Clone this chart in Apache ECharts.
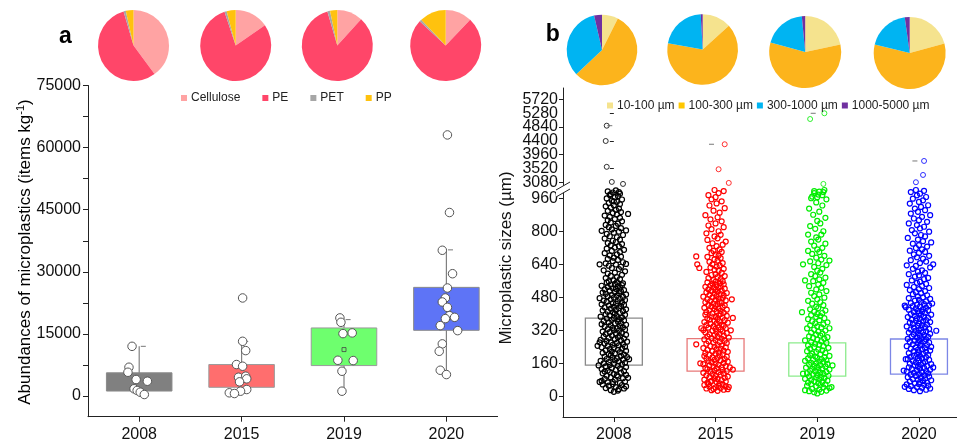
<!DOCTYPE html>
<html><head><meta charset="utf-8">
<script src="https://cdn.jsdelivr.net/npm/echarts@6/dist/echarts.min.js"></script>
<style>html,body{margin:0;padding:0;background:#fff}#c{width:957px;height:443px}</style>
</head><body><div id="c"></div>
<script>
// ---------- DATA ----------
const years = ['2008', '2015', '2019', '2020'];

const polymerNames = ['Cellulose', 'PE', 'PET', 'PP'];
const polymerShares = [
  [39.9, 55.6, 1.0, 3.5],
  [15.4, 79.5, 1.0, 4.1],
  [11.7, 83.8, 1.2, 3.3],
  [12.1, 74.8, 1.0, 12.1]
];

const sizeClassNames = ['10-100 µm', '100-300 µm', '300-1000 µm', '1000-5000 µm'];
const sizeClassShares = [
  [7.4, 55.6, 33.4, 3.6],
  [13.3, 64.5, 21.3, 0.9],
  [21.7, 57.5, 19.3, 1.5],
  [20.8, 58.0, 19.0, 2.2]
];

// abundance boxes: [Q1, Q3, whisker low, whisker high]
const abundanceBoxes = [
  [1200, 5600, 360, 12000],
  [2100, 7600, 600, 13200],
  [7350, 16440, 1160, 18450],
  [15870, 26240, 5180, 35300]
];
const abundanceMean2019 = 11210;
// abundance samples: [jitter (hundredths of a category), items/kg]
const abundance2008 = [[-7,12000],[-10,6950],[-11,5740],[-3,3980],[8,3570],[-5,1740],[-2,1330],[1,920],[5,360]];
const abundance2015 = [[1,23680],[1,13210],[4,10970],[-5,7600],[1,7190],[-3,4530],[4,4780],[5,4150],[-2,3420],[5,1570],[-1,1160],[-12,770],[-7,600]];
const abundance2019 = [[-4,18860],[-3,17800],[-1,15070],[8,15240],[-6,8630],[9,8560],[-2,5980],[-2,1160]];
const abundance2020 = [[1,63060],[3,44320],[-4,35200],[6,29540],[1,26090],[-1,23680],[-4,22710],[1,21410],[3,19410],[8,19000],[-1,18690],[-6,17000],[11,15790],[-4,12590],[-7,10800],[-6,6220],[0,5180]];

// size boxes: [Q1, Q3]
const sizeBoxes = [[151, 379], [122, 280], [98, 259], [108, 278]];
const sizeMax = [4880, 4289, 5275, 3757];

// particle sizes (µm): [jitter (hundredths of a category), size]
const sizes2008 = [
[0,22],[-3,30],[5,35],[-8,40],[10,38],[2,45],[-5,52],[8,55],[-11,58],[12,48],[-1,60],[4,28],
[-12,75],[-14,70],[6,65],[-6,68],[11,72],[1,80],[-9,85],[9,88],[-3,92],[4,96],[-7,100],[12,104],[0,108],[-11,112],[7,115],[-4,118],[14,90],[-1,70],[3,102],[-9,120],
[10,122],[-6,125],[2,128],[-12,132],[6,135],[-2,138],[12,142],[-8,145],[4,148],[-4,152],[8,155],[0,158],[-10,160],[11,163],[-5,166],[5,170],[-13,172],[1,175],[9,178],[-7,181],[3,184],[-1,188],[13,190],[-9,193],[7,196],[-3,199],[-15,150],[15,180],
[10,202],[-5,205],[1,208],[-11,211],[6,214],[-2,217],[12,220],[-8,223],[4,226],[-4,229],[8,232],[0,235],[-12,238],[11,241],[-6,244],[5,247],[-1,250],[9,253],[-9,256],[3,259],[-3,262],[13,265],[-7,268],[7,271],[-13,274],[1,277],[10,280],[-5,283],[4,286],[-10,289],[6,292],[-2,295],[12,298],[-16,245],[-14,262],
[-8,302],[2,305],[8,308],[-4,311],[-11,314],[5,317],[0,320],[11,323],[-6,326],[3,329],[-1,332],[9,335],[-9,338],[6,341],[-3,344],[12,347],[-12,350],[1,353],[7,356],[-5,359],[4,362],[-10,365],[10,368],[-2,371],[5,374],[-7,377],[0,380],[8,383],[-13,386],[3,389],[-4,392],[11,395],[-8,398],[1,401],[6,404],[-1,407],[-6,410],[9,413],[-11,416],[2,419],
[12,422],[-3,425],[5,428],[-9,431],[0,434],[7,437],[-5,440],[10,443],[-12,446],[2,449],[-1,452],[8,455],[-7,458],[4,461],[-10,464],[11,467],[-3,470],[6,473],[-14,476],[0,479],[9,482],[-6,485],[3,488],[-2,491],[12,494],[-8,497],[5,500],[-11,503],[1,506],[7,509],[-4,512],[10,515],[-9,518],[2,521],[-1,524],[6,527],[-6,530],[4,533],[-12,536],[8,539],[-3,542],[1,545],[9,548],[-7,551],[3,554],[-5,557],
[0,562],[6,568],[-8,573],[3,578],[-3,584],[8,589],[-6,595],[1,600],[11,606],[-10,611],[5,617],[-2,622],[7,628],[-5,633],[2,639],[-8,644],[9,650],[-1,655],[4,661],[-6,666],[12,642],[-14,640],[0,672],[7,677],[-4,683],[3,688],[-9,694],[6,699],[-2,705],[10,710],[-7,716],[1,721],[5,727],[-3,732],[8,738],[-6,743],[2,748],
[-1,754],[6,760],[-9,765],[3,771],[-4,776],[9,782],[-7,787],[0,793],[5,798],[-12,802],[12,804],[-2,809],[7,815],[-5,820],[2,826],[-8,831],[4,837],[-3,842],[8,848],[-6,853],[1,859],[14,884],[6,865],[-4,870],[-9,876],[3,882],[-1,888],[7,893],[-6,899],[2,904],[5,910],[-3,915],[-8,921],[0,926],[6,932],[-5,937],[3,943],[-2,948],[8,954],[-7,959],[1,965],[4,971],[-4,976],[6,982],[-1,988],[-6,993],[2,998],[0,945],[-3,980],[5,990]
];
const sizes2015 = [
[2,27],[-4,30],[8,32],[12,35],[-9,38],[5,40],[0,43],[-6,46],[10,48],[3,52],[-11,55],[13,45],[7,58],[-2,36],[-7,60],
[4,63],[-8,66],[1,69],[10,72],[-4,75],[6,78],[-11,81],[2,84],[-1,87],[9,90],[-6,93],[12,96],[0,99],[-9,102],[5,105],[-3,108],[8,111],[-12,114],[3,117],[-5,120],[11,123],[-1,126],[7,129],[-8,132],[1,135],[-10,138],[6,141],[-2,144],[10,147],[-6,150],[3,153],[-12,156],[0,159],[8,162],[-4,165],[12,168],[-7,171],[5,174],[-1,177],[9,180],[-9,183],[2,186],[-3,189],[11,192],[-11,195],[4,198],[-15,160],[14,140],[-5,70],[17,130],
[-6,201],[7,204],[0,207],[-10,210],[3,213],[12,216],[-3,219],[8,222],[-8,225],[1,228],[5,231],[-12,234],[10,237],[-1,240],[-5,243],[6,246],[-19,252],[2,249],[-9,255],[11,258],[-2,261],[4,264],[-7,267],[9,270],[0,273],[-11,276],[6,279],[-4,282],[13,285],[2,288],[-8,291],[8,294],[-1,297],[-6,300],[4,303],[11,306],[-10,309],[1,312],[7,315],[-3,318],[-12,321],[5,324],[0,327],[10,330],[-7,333],[3,336],[-2,339],[8,342],[-9,345],[6,348],[-5,351],[1,354],[12,357],[-11,360],[4,363],[-1,366],[9,369],[-6,372],[2,375],[-8,378],[7,381],[0,384],[-4,387],[11,390],[3,393],[-10,396],[5,399],[15,320],[-14,330],[17,380],
[-3,402],[8,405],[-9,408],[1,411],[5,414],[-6,417],[11,420],[-1,423],[3,426],[-11,429],[7,432],[-4,435],[0,438],[9,441],[-7,444],[2,447],[-2,450],[6,453],[-10,456],[4,459],[-5,462],[10,465],[0,468],[-8,471],[3,474],[7,477],[-3,480],[-12,483],[1,486],[8,489],[-6,492],[5,495],[-1,498],[11,501],[-9,504],[2,507],[-4,510],[6,513],[0,516],[-7,519],[9,522],[3,525],[-2,528],[-10,531],[5,534],[-5,537],[1,540],[8,543],[-3,546],[4,549],[-8,552],[0,555],[7,558],[16,470],
[-2,563],[5,568],[-7,573],[2,578],[9,583],[-4,588],[0,593],[6,598],[-9,603],[3,608],[-1,613],[8,618],[-16,622],[-5,624],[1,629],[4,635],[-3,640],[-18,640],[7,646],[-6,652],[2,658],[-1,664],[5,670],[-8,676],[-19,678],[3,682],[0,688],[-4,694],[6,700],
[-2,705],[4,712],[-6,720],[1,728],[7,735],[-3,742],[10,750],[-8,758],[2,766],[-1,775],[5,783],[-9,790],[3,800],[-4,810],[8,820],[-7,828],[0,838],[6,848],[-5,858],[2,868],[-10,878],[4,890],[-2,900],[9,912],[-6,925],[1,935],[6,945],[-4,955],[0,965],[3,985],[-7,975],[8,995],[-1,1000]
];
const sizes2019 = [
[0,14],[-3,20],[4,22],[-8,25],[9,28],[-12,30],[2,33],[-5,36],[12,40],[6,44],[-1,48],[-10,52],[3,55],[8,58],[-6,60],[14,45],
[1,64],[-9,67],[5,70],[-3,73],[10,76],[-6,79],[2,82],[-12,85],[7,88],[-1,91],[4,94],[-8,97],[11,100],[0,103],[-4,106],[6,109],[-10,112],[3,115],[9,118],[-2,121],[-7,124],[1,127],[12,130],[-5,133],[5,136],[-11,139],[0,142],[8,145],[-3,148],[3,151],[-8,154],[10,157],[-1,160],[-6,163],[6,166],[2,169],[-12,172],[9,175],[-4,178],[4,181],[-9,184],[0,187],[7,190],[-2,193],[12,196],[-7,199],[-14,110],[15,150],
[3,203],[-5,207],[8,211],[-1,215],[-10,219],[5,223],[1,227],[-7,231],[11,235],[-3,239],[6,243],[-9,247],[2,251],[-2,255],[9,259],[-6,263],[4,267],[-12,271],[0,275],[7,279],[-4,283],[10,287],[-8,291],[3,295],[-1,299],[5,304],[-6,309],[1,314],[8,319],[-3,324],[-10,329],[4,334],[0,339],[-7,344],[6,349],[-2,354],[10,359],[-5,364],[2,369],[-9,374],[7,379],[-1,384],[3,389],[-6,394],[0,399],[-15,408],[12,330],
[5,404],[-3,410],[8,416],[-7,422],[1,428],[-1,435],[6,442],[-5,449],[3,456],[-9,463],[0,470],[7,478],[-3,486],[2,494],[-6,502],[9,510],[-1,518],[4,526],[-8,534],[1,542],[6,550],[-4,558],[-12,562],[2,567],[8,575],[-2,583],[-6,592],[3,600],[0,609],[5,618],[-3,627],[-14,640],[9,636],[1,645],[-7,654],[12,658],[4,663],[-1,672],[7,681],[-5,690],[2,699],
[-9,705],[0,712],[5,720],[-3,730],[8,740],[-6,750],[1,760],[-1,770],[4,784],[-9,784],[6,800],[-2,812],[-7,825],[3,838],[0,850],[8,865],[-4,880],[2,895],[-8,910],[5,925],[-1,940],[9,955],[-5,968],[1,978],[6,990],[-3,995],[-6,960],[-3,985],[2,992],[5,975],[7,1000],[0,965]
];
const sizes2020 = [
[1,25],[-5,30],[7,32],[-10,36],[11,38],[3,42],[-2,45],[-8,50],[9,52],[5,56],[-12,58],[0,60],[-14,46],
[-4,63],[8,66],[1,69],[-9,72],[4,75],[12,78],[-1,81],[-6,84],[6,87],[2,90],[-11,93],[10,96],[-3,99],[5,102],[-8,105],[0,108],[9,111],[-5,114],[3,117],[-12,120],[7,123],[-2,126],[11,129],[-7,132],[1,135],[5,138],[-10,141],[-1,144],[8,147],[-4,150],[2,153],[12,156],[-9,159],[4,162],[-3,165],[6,168],[-6,171],[0,174],[10,177],[-11,180],[3,183],[-1,186],[7,189],[-8,192],[1,195],[-5,198],[-15,125],[14,140],[-13,180],
[9,201],[-2,204],[4,207],[-10,210],[0,213],[7,216],[-5,219],[11,222],[-1,225],[3,228],[-8,231],[6,234],[-3,237],[12,240],[-12,243],[1,246],[8,249],[-6,252],[2,255],[-1,258],[10,261],[-9,264],[5,267],[-4,270],[0,273],[7,276],[-11,279],[3,282],[-2,285],[9,288],[-7,291],[1,294],[5,297],[-5,300],[11,303],[-1,306],[-10,309],[4,312],[7,315],[-3,318],[17,318],[0,321],[-8,324],[10,327],[2,330],[-5,333],[6,336],[-12,339],[-1,342],[3,345],[8,348],[-6,351],[0,354],[-9,357],[11,360],[4,363],[-3,366],[7,369],[-7,372],[1,375],[-2,378],[9,381],[-11,384],[5,387],[-4,390],[2,393],[12,396],[-8,399],[0,402],[6,405],[-5,408],[3,411],[-1,414],[9,417],[-10,420],[4,423],[-3,426],[7,429],[-13,432],[1,435],[-6,438],[10,441],[-2,444],[5,447],[-14,440],[13,450],
[-8,452],[2,456],[7,460],[-4,464],[0,468],[11,472],[-10,476],[4,480],[-1,485],[8,490],[-6,495],[2,500],[-3,505],[6,510],[-9,515],[0,520],[10,525],[-5,530],[3,535],[-12,540],[7,545],[-2,550],[1,556],[-7,562],[5,568],[9,574],[-4,580],[0,586],[-10,592],[6,598],[-1,604],[3,611],[-6,618],[11,625],[-3,632],[14,640],[-12,635],[1,646],[7,653],[-8,660],[4,667],[-2,674],[10,681],[-5,688],[0,695],[6,700],
[-9,706],[3,712],[-3,719],[8,726],[0,733],[-6,740],[12,746],[4,752],[-1,760],[-11,768],[6,775],[2,782],[-4,790],[10,798],[-7,806],[1,814],[5,822],[-2,830],[-10,838],[8,846],[0,854],[-5,862],[3,870],[11,878],[-8,886],[-1,894],[6,902],[-4,910],[2,918],[9,926],[-9,934],[0,942],[4,950],[-6,958],[7,966],[-2,974],[1,982],[-8,990],[5,996],[-3,1000]
];
// particles above the axis break
const sizesHigh2008 = [[-7,4880],[-8,4393],[-7,3570],[-2,3090],[9,3026]];
const sizesHigh2015 = [[9,4289],[3,3493],[13,3058]];
const sizesHigh2019 = [[-7,5093],[7,5275],[6,3026]];
const sizesHigh2020 = [[5,3757],[4,3312],[-3,3080]];

const abundanceTicks = [0, 15000, 30000, 45000, 60000, 75000];
const abundanceMinorTicks = [0, 7500, 15000, 22500, 30000, 37500, 45000, 52500, 60000, 67500, 75000];
const sizeTicksLow = [0, 160, 320, 480, 640, 800, 960];
const sizeTicksHighA = [3080, 3960, 4840, 5720];
const sizeTicksHighB = [3520, 4400, 5280];

// ---------- STYLE ----------
const FONT = 'Liberation Sans, Arial, sans-serif';
const polymerColors = ['#FFA3A3', '#FF4669', '#A6A6A6', '#FFC20E'];
const sizeColors = ['#F5E38E', '#FFC700', '#00B4F2', '#7030A0'];
const boxFillA = ['#808080', '#FF6E6E', '#6EFF6E', '#5E74F6'];
const pointColorsB = ['#000000', '#FF0000', '#00EE00', '#0000FF'];
const boxStrokeB = ['#8a8a8a', '#E87878', '#8CEB8C', '#7C86E6'];

const pieCentersA = [[133.5, 45.5], [235.7, 45.5], [337.3, 45.5], [445.7, 45.5]];
const pieCentersB = [[602, 50], [702.7, 49.5], [805.2, 52], [909.7, 53]];

const jit = (arr, i) => arr.map(p => [i + p[0] / 100, p[1]]);
const plain = v => String(v);

function axisCommon(extra) {
  return Object.assign({
    type: 'value',
    splitLine: { show: false },
    axisLine: { show: true, onZero: false, lineStyle: { color: '#222', width: 1 } },
    axisTick: { show: true, length: 5, lineStyle: { color: '#222' } },
    axisLabel: { color: '#111', fontFamily: FONT, fontSize: 16 }
  }, extra);
}
function lab(extra) {
  return Object.assign({ color: '#111', fontFamily: FONT, fontSize: 16, showMinLabel: true, showMaxLabel: true, hideOverlap: false, formatter: plain }, extra);
}

function boxSeries(xi, yi, rows, widthU, fills, strokes, whisk, z) {
  return {
    type: 'custom', xAxisIndex: xi, yAxisIndex: yi, z: z, silent: true,
    encode: { x: 0, y: whisk ? [1, 2, 3, 4] : [1, 2] },
    data: rows.map((r, i) => [i].concat(r)),
    renderItem: function (params, api) {
      const i = params.dataIndex;
      const x = api.value(0);
      const lo = api.coord([x, api.value(1)]);
      const hi = api.coord([x, api.value(2)]);
      const w = api.size([widthU, 0])[0];
      const ch = [];
      if (whisk) {
        const wl = api.coord([x, api.value(3)]);
        const wh = api.coord([x, api.value(4)]);
        ch.push({ type: 'line', shape: { x1: wl[0], y1: wl[1], x2: wh[0], y2: wh[1] }, style: { stroke: '#808080', lineWidth: 1.2 } });
      }
      ch.push({ type: 'rect', shape: { x: lo[0] - w / 2, y: hi[1], width: w, height: lo[1] - hi[1] },
        style: { fill: fills ? fills[i] : 'none', stroke: strokes[i], lineWidth: fills ? 1 : 1.3 } });
      return { type: 'group', children: ch };
    }
  };
}

const series = [];
polymerShares.forEach((vals, i) => {
  series.push({
    type: 'pie', center: pieCentersA[i], radius: 35.5, silent: true, startAngle: 90, clockwise: true,
    label: { show: false }, labelLine: { show: false }, color: polymerColors,
    itemStyle: { borderWidth: 0 }, emphasis: { disabled: true },
    data: polymerNames.map((n, k) => ({ name: n, value: vals[k] }))
  });
});
sizeClassShares.forEach((vals, i) => {
  series.push({
    type: 'pie', center: pieCentersB[i], radius: i < 2 ? 35.3 : 36, silent: true, startAngle: 90, clockwise: true,
    label: { show: false }, labelLine: { show: false },
    color: i === 0 ? ['#F5E38E', '#FCB41C', '#00B4F2', '#7030A0'] : sizeColors,
    itemStyle: { borderWidth: 0 }, emphasis: { disabled: true },
    data: sizeClassNames.map((n, k) => ({ name: n, value: vals[k] }))
  });
});

series.push(boxSeries(0, 0, abundanceBoxes, 0.64, boxFillA, ['#8a8a8a', '#9a9a9a', '#9a9a9a', '#8a8a8a'], true, 2));
series.push({
  type: 'scatter', xAxisIndex: 0, yAxisIndex: 0, z: 3, silent: true, symbol: 'rect', symbolSize: [5, 1],
  itemStyle: { color: '#555' },
  data: abundanceBoxes.map((b, i) => [i + 0.04, b[3]])
});
series.push({
  type: 'scatter', xAxisIndex: 0, yAxisIndex: 0, z: 3, silent: true, symbol: 'rect', symbolSize: 4,
  itemStyle: { color: 'rgba(0,0,0,0)', borderColor: '#444', borderWidth: 1 },
  data: [[2, abundanceMean2019]]
});
[abundance2008, abundance2015, abundance2019, abundance2020].forEach((arr, i) => {
  series.push({
    type: 'scatter', xAxisIndex: 0, yAxisIndex: 0, z: 4, silent: true, symbol: 'circle', symbolSize: 8.5,
    itemStyle: { color: '#fff', borderColor: '#555', borderWidth: 1, opacity: 1 },
    data: jit(arr, i)
  });
});

series.push(boxSeries(1, 1, sizeBoxes, 0.56, null, boxStrokeB, false, 2));
[sizes2008, sizes2015, sizes2019, sizes2020].forEach((arr, i) => {
  series.push({
    type: 'scatter', xAxisIndex: 1, yAxisIndex: 1, z: 3, silent: true, symbol: 'circle', symbolSize: 5,
    itemStyle: { color: 'rgba(0,0,0,0)', borderColor: pointColorsB[i], borderWidth: 1.2, opacity: 1 },
    data: jit(arr, i)
  });
});
[sizesHigh2008, sizesHigh2015, sizesHigh2019, sizesHigh2020].forEach((arr, i) => {
  series.push({
    type: 'scatter', xAxisIndex: 2, yAxisIndex: 2, z: 3, silent: true, symbol: 'circle', symbolSize: 5,
    itemStyle: { color: 'rgba(0,0,0,0)', borderColor: pointColorsB[i], borderWidth: 1, opacity: 0.8 },
    data: jit(arr, i)
  });
});
series.push({
  type: 'scatter', xAxisIndex: 2, yAxisIndex: 2, z: 3, silent: true, symbol: 'rect', symbolSize: [5, 1],
  itemStyle: { color: '#555' },
  data: sizeMax.map((v, i) => [i - 0.04, v])
});

const option = {
  animation: false,
  backgroundColor: '#ffffff',
  grid: [
    { left: 88, top: 85.5, width: 409.6, height: 331.2 },
    { left: 563, top: 190, width: 394, height: 228 },
    { left: 563, top: 88, width: 394, height: 98 }
  ],
  xAxis: [
    axisCommon({ gridIndex: 0, min: -0.5, max: 3.5,
      axisTick: { show: true, length: 5, customValues: [0, 1, 2, 3], lineStyle: { color: '#222' } },
      axisLabel: lab({ margin: 10, customValues: [0, 1, 2, 3], formatter: v => years[Math.round(v)] }) }),
    axisCommon({ gridIndex: 1, min: -0.5, max: 3.374,
      axisTick: { show: true, length: 5, customValues: [0, 1, 2, 3], lineStyle: { color: '#222' } },
      axisLabel: lab({ margin: 10, customValues: [0, 1, 2, 3], formatter: v => years[Math.round(v)] }) }),
    axisCommon({ gridIndex: 2, min: -0.5, max: 3.374, show: false })
  ],
  yAxis: [
    axisCommon({ gridIndex: 0, min: -5000, max: 75000,
      axisTick: { show: true, length: 5, customValues: abundanceMinorTicks, lineStyle: { color: '#222' } },
      axisLabel: lab({ margin: 7, customValues: abundanceTicks }) }),
    axisCommon({ gridIndex: 1, min: -100, max: 1000,
      axisTick: { show: true, length: 4, customValues: sizeTicksLow, lineStyle: { color: '#222' } },
      axisLabel: lab({ margin: 5, customValues: sizeTicksLow }) }),
    axisCommon({ gridIndex: 2, min: 2960, max: 6080,
      axisTick: { show: true, length: 4, customValues: sizeTicksHighA, lineStyle: { color: '#222' } },
      axisLabel: lab({ margin: 5, customValues: sizeTicksHighA }) }),
    axisCommon({ gridIndex: 2, min: 2960, max: 6080, position: 'left', offset: 0,
      axisLine: { show: false },
      axisTick: { show: true, length: 4, customValues: sizeTicksHighB, lineStyle: { color: '#222' } },
      axisLabel: lab({ margin: 5, customValues: sizeTicksHighB }) })
  ],
  legend: [
    { left: 181, top: 92, padding: 0, itemWidth: 6, itemHeight: 6, itemGap: 22, icon: 'rect', selectedMode: false,
      textStyle: { fontFamily: FONT, fontSize: 12, color: '#222', padding: [0, 0, 0, -1] },
      data: polymerNames.map((n, k) => ({ name: n, itemStyle: { color: polymerColors[k] } })) },
    { left: 607, top: 99.5, padding: 0, itemWidth: 6, itemHeight: 6, itemGap: 4, icon: 'rect', selectedMode: false,
      textStyle: { fontFamily: FONT, fontSize: 12, color: '#222', padding: [0, 0, 0, -1] },
      data: sizeClassNames.map((n, k) => ({ name: n, itemStyle: { color: sizeColors[k] } })) }
  ],
  graphic: [
    { type: 'text', x: 65.3, y: 36.3, style: { text: 'a', font: 'bold 23px ' + FONT, fill: '#000', align: 'center', verticalAlign: 'middle' } },
    { type: 'text', x: 552.7, y: 35, style: { text: 'b', font: 'bold 23px ' + FONT, fill: '#000', align: 'center', verticalAlign: 'middle' } },
    { type: 'text', x: 25, y: 252, rotation: Math.PI / 2,
      style: { text: '{n|Abundances of microplastics (items kg}{s|-1}{n|)}', align: 'center', verticalAlign: 'middle',
        rich: { n: { fontFamily: FONT, fontSize: 17, color: '#111' }, s: { fontFamily: FONT, fontSize: 11, color: '#111', verticalAlign: 'top', padding: [0, 0, 8, 0] } } } },
    { type: 'text', x: 506.7, y: 258, rotation: Math.PI / 2,
      style: { text: 'Microplastic sizes (µm)', font: '17px ' + FONT, fill: '#111', align: 'center', verticalAlign: 'middle' } },
    { type: 'polygon', z: 100, shape: { points: [[556, 190], [570, 182], [570, 189], [556, 197]] }, style: { fill: '#fff' } },
    { type: 'line', z: 101, shape: { x1: 556, y1: 190, x2: 570, y2: 182 }, style: { stroke: '#222', lineWidth: 1 } },
    { type: 'line', z: 101, shape: { x1: 556, y1: 197, x2: 570, y2: 189 }, style: { stroke: '#222', lineWidth: 1 } }
  ],
  series: series
};

const chart = echarts.init(document.getElementById('c'), null, { renderer: 'canvas' });
chart.setOption(option);
</script></body></html>
